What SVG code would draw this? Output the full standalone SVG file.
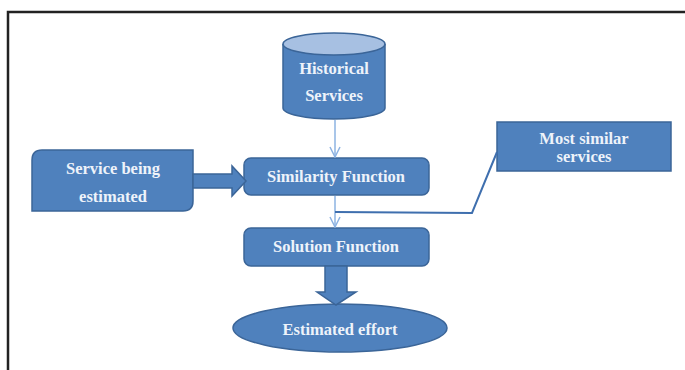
<svg xmlns="http://www.w3.org/2000/svg" width="685" height="370" viewBox="0 0 685 370">
<defs>
<style>
.shape{fill:#4f81bd;stroke:#3b6598;stroke-width:1.5}
.lbl{font-weight:bold;font-size:16.5px;fill:#eef3fa;text-anchor:middle}
.thin{fill:none;stroke:#8db3e2;stroke-width:1.5}
.branch{fill:none;stroke:#3f6fae;stroke-width:2}
.frame{fill:none;stroke:#222;stroke-width:2.5}
</style>
<marker id="open" viewBox="0 0 12 12" refX="11" refY="6" markerWidth="12" markerHeight="12" markerUnits="userSpaceOnUse" orient="auto">
<path d="M1,1 L11,6 L1,11" fill="none" stroke="#8db3e2" stroke-width="1.5"/>
</marker>
</defs>
<rect width="685" height="370" fill="#ffffff"/>
<path class="frame" d="M8,370 L8,12 L685,12"/>
<g font-family="Times New Roman, Liberation Serif, Tinos, serif">
<g id="historical-services">
<path class="shape" d="M283,44 L283,108 A51,11 0 0 0 385,108 L385,44"/>
<ellipse cx="334" cy="44" rx="51" ry="11" fill="#a7c0e2" stroke="#3b6598" stroke-width="1.5"/>
<text class="lbl" x="334" y="74">Historical</text>
<text class="lbl" x="334" y="101">Services</text>
</g>
<g id="service-being-estimated">
<path class="shape" d="M42,150 L193,150 L193,201 Q193,211 183,211 L32,211 L32,160 Q32,150 42,150 Z"/>
<text class="lbl" x="113" y="174">Service being</text>
<text class="lbl" x="113" y="202">estimated</text>
</g>
<g id="similarity-function">
<rect class="shape" x="244" y="158" width="185" height="37" rx="7"/>
<text class="lbl" x="336" y="182">Similarity Function</text>
</g>
<g id="most-similar-services">
<rect class="shape" x="497" y="122" width="174" height="49"/>
<text class="lbl" x="584" y="144">Most similar</text>
<text class="lbl" x="584" y="162">services</text>
</g>
<g id="solution-function">
<rect class="shape" x="244" y="228" width="185" height="38" rx="7"/>
<text class="lbl" x="336" y="252">Solution Function</text>
</g>
<g id="estimated-effort">
<ellipse class="shape" cx="340" cy="328" rx="107" ry="24"/>
<text class="lbl" x="340" y="335">Estimated effort</text>
</g>
</g>
<g id="connectors">
<path class="thin" d="M335,120 L335,157" marker-end="url(#open)"/>
<path class="thin" d="M335,196 L335,227" marker-end="url(#open)"/>
<path class="branch" d="M335,212 L472,213 L497,152"/>
<path class="shape" d="M193,174 L232,174 L232,166 L246,181 L232,196 L232,188 L193,188 Z"/>
<path class="shape" d="M325,266 L347,266 L347,292 L356,292 L336,305 L317,292 L325,292 Z"/>
</g>
</svg>
